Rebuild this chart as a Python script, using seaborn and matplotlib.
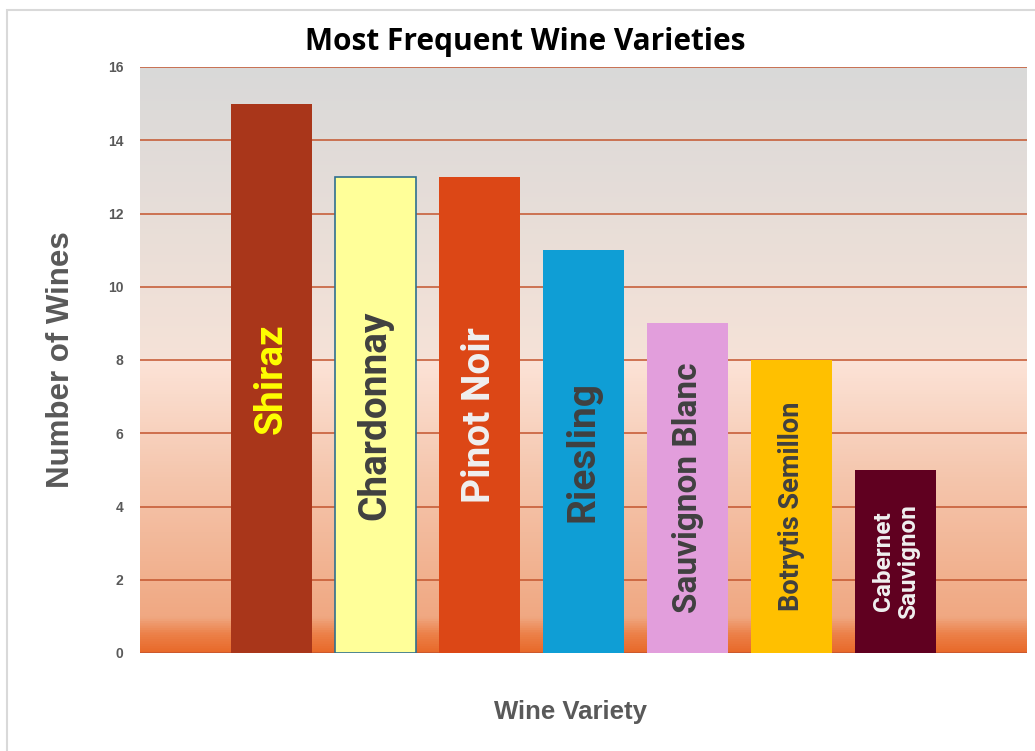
import numpy as np
import pandas as pd
import seaborn as sns
import matplotlib.pyplot as plt
from matplotlib.colors import LinearSegmentedColormap
from matplotlib.patches import Rectangle

# data
varieties = ["Shiraz", "Chardonnay", "Pinot Noir", "Riesling",
             "Sauvignon Blanc", "Botrytis Semillon", "Cabernet Sauvignon"]
counts = [15, 13, 13, 11, 9, 8, 5]
bar_labels = ["Shiraz", "Chardonnay", "Pinot Noir", "Riesling",
              "Sauvignon Blanc", "Botrytis Semillon", "Cabernet\nSauvignon"]
y_ticks = [0, 2, 4, 6, 8, 10, 12, 14, 16]

# styling
bar_colors = ["#a9361a", "#ffff99", "#dc4716", "#0f9ed5",
              "#e29edc", "#ffc000", "#600020"]
label_colors = ["#ffff00", "#404040", "#f0f0f0", "#404040",
                "#404040", "#404040", "#f0f0f0"]
label_sizes = [28, 28, 28, 28, 24, 19.5, 17.5]
grid_color = "#c4552e"
gray = "#595959"

sns.set_theme(style="white")
plt.rcParams["font.family"] = ["Liberation Sans", "DejaVu Sans"]

df = pd.DataFrame({"variety": varieties, "count": counts})

fig = plt.figure(figsize=(10.35, 7.51), dpi=100)
ax = fig.add_axes([140 / 1035, 1 - 653 / 751, 887 / 1035, 586 / 751])

xlim = (-1.26, 6.26 + 1.0)

# gradient background
stops = [(0.0, "#e8692a"), (0.03, "#ec8048"), (0.06, "#f0a882"),
         (0.30, "#f5c6ad"), (0.497, "#fce3d7"), (0.503, "#f5e2d7"),
         (1.0, "#d9d9d9")]
cmap = LinearSegmentedColormap.from_list("bg", stops)
grad = np.linspace(0, 1, 512).reshape(-1, 1)
ax.imshow(grad, cmap=cmap, origin="lower", aspect="auto",
          extent=(xlim[0], xlim[1], 0, 16), zorder=0)

for t in y_ticks:
    ax.axhline(t, color=grid_color, lw=1.1, zorder=1)

sns.barplot(data=df, x="variety", y="count", hue="variety",
            palette=dict(zip(varieties, bar_colors)), legend=False,
            width=0.78, saturation=1, ax=ax, zorder=2)

for i, p in enumerate(ax.patches):
    if varieties[i] == "Chardonnay":
        p.set_edgecolor("#2f6f8f")
        p.set_linewidth(1.2)
    else:
        p.set_edgecolor("none")

for i, v in enumerate(counts):
    ax.text(i, v / 2, bar_labels[i], rotation=90, ha="center", va="center",
            color=label_colors[i], fontsize=label_sizes[i], fontweight="bold",
            family=["Roboto", "DejaVu Sans"], linespacing=1.1, zorder=3)

ax.set_xlim(*xlim)
ax.set_ylim(0, 16)
ax.set_yticks(y_ticks)
ax.set_xticks([])
ax.tick_params(axis="y", length=0, pad=12, labelsize=10, labelcolor=gray)
for lab in ax.get_yticklabels():
    lab.set_fontweight("bold")
for s in ax.spines.values():
    s.set_visible(False)

ax.set_xlabel("Wine Variety", fontsize=18.5, fontweight="bold", color=gray)
ax.xaxis.set_label_coords((570 - 140) / 887, -(700 - 653) / 586)
ax.set_ylabel("Number of Wines", fontsize=22.5, fontweight="bold", color=gray)
ax.yaxis.set_label_coords(-(140 - 76) / 887, 0.5)

fig.text(525 / 1035, 1 - 42 / 751, "Most Frequent Wine Varieties",
         ha="center", va="center", fontsize=21.5, fontweight="bold",
         color="black", family=["Open Sans", "DejaVu Sans"])

# chart frame
fig.patches.append(Rectangle((7 / 1035, -0.1), 1.2, 1 - 10 / 751 + 0.1,
                             transform=fig.transFigure, fill=False,
                             edgecolor="#d9d9d9", lw=1.5))

fig.savefig("out.png", dpi=100)
